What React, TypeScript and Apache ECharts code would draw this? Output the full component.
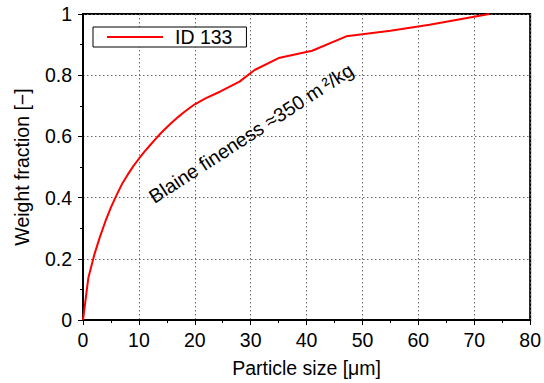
import React, { useEffect, useRef } from "react";
import * as echarts from "echarts";

const particleSize = [0, 0.95, 2, 3, 4, 5, 6, 7, 8, 9, 10, 11, 12, 13, 14, 15, 16, 17, 18, 19, 20, 22, 24.5, 28, 30.7, 35, 41, 47.1, 55, 62, 72.7];
const weightFraction = [0, 0.137, 0.212, 0.27, 0.322, 0.368, 0.408, 0.445, 0.475, 0.503, 0.527, 0.55, 0.571, 0.592, 0.612, 0.63, 0.647, 0.663, 0.678, 0.692, 0.705, 0.725, 0.746, 0.779, 0.817, 0.856, 0.88, 0.927, 0.945, 0.965, 1.0];
const seriesName = "ID 133";
const annotation = "Blaine fineness ≈350 m\u2009²/kg";

const FONT = "'Liberation Sans', Arial, sans-serif";
const FS = 19.5;

export default function App() {
  const ref = useRef<HTMLDivElement>(null);
  useEffect(() => {
    if (!ref.current) return;
    const chart = echarts.init(ref.current, undefined, { renderer: "svg" });
    const data = particleSize.map((x, i) => [x, weightFraction[i]]);
    chart.setOption({
      animation: false,
      textStyle: { fontFamily: FONT },
      grid: {
        left: 83,
        right: 13,
        top: 14,
        bottom: 63,
        show: true,
        borderColor: "#000",
        borderWidth: 2,
        backgroundColor: "transparent",
      },
      legend: {
        left: 93,
        top: 27,
        orient: "horizontal",
        data: [seriesName],
        icon: "rect",
        itemWidth: 56,
        itemHeight: 2,
        itemGap: 10,
        padding: [0, 14, 0, 14],
        borderColor: "#000",
        borderWidth: 1,
        borderRadius: 0,
        backgroundColor: "#fff",
        textStyle: { fontSize: FS, color: "#000", fontFamily: FONT, padding: [0, 0, 0, 7], lineHeight: 20 },
      },
      xAxis: {
        type: "value",
        min: 0,
        max: 80,
        interval: 10,
        name: "Particle size [μm]",
        nameLocation: "middle",
        nameGap: 38,
        nameTextStyle: { fontSize: FS, color: "#000", fontFamily: FONT },
        axisLine: { show: true, lineStyle: { color: "#000", width: 2 } },
        axisTick: { show: true, length: 5, inside: false, lineStyle: { color: "#000", width: 1 } },
        minorTick: { show: true, splitNumber: 2, length: 3, lineStyle: { color: "#000", width: 1 } },
        axisLabel: { fontSize: FS, color: "#000", margin: 10, fontFamily: FONT },
        splitLine: { show: true, lineStyle: { color: "#666", width: 1, type: [1.5, 2.5] } },
      },
      yAxis: {
        type: "value",
        min: 0,
        max: 1,
        interval: 0.2,
        name: "Weight fraction [−]",
        nameLocation: "middle",
        nameGap: 51,
        nameTextStyle: { fontSize: FS, color: "#000", fontFamily: FONT },
        axisLine: { show: true, lineStyle: { color: "#000", width: 2 } },
        axisTick: { show: true, length: 5, inside: false, lineStyle: { color: "#000", width: 1 } },
        minorTick: { show: true, splitNumber: 2, length: 3, lineStyle: { color: "#000", width: 1 } },
        axisLabel: { fontSize: FS, color: "#000", margin: 11, fontFamily: FONT },
        splitLine: { show: true, lineStyle: { color: "#666", width: 1, type: [1.5, 2.5] } },
      },
      series: [
        {
          name: seriesName,
          type: "line",
          data,
          showSymbol: false,
          symbol: "none",
          lineStyle: { color: "#ff0000", width: 2 },
          itemStyle: { color: "#ff0000" },
          z: 3,
        },
      ],
      graphic: [
        {
          type: "text",
          x: 251,
          y: 133,
          rotation: (33 * Math.PI) / 180,
          style: {
            text: annotation,
            fontSize: FS,
            fontFamily: FONT,
            fill: "#000",
            align: "center",
            verticalAlign: "middle",
          },
          z: 10,
        },
      ],
    });
    return () => chart.dispose();
  }, []);
  return <div ref={ref} style={{ width: 544, height: 383, position: "absolute", left: 0, top: 0 }} />;
}
